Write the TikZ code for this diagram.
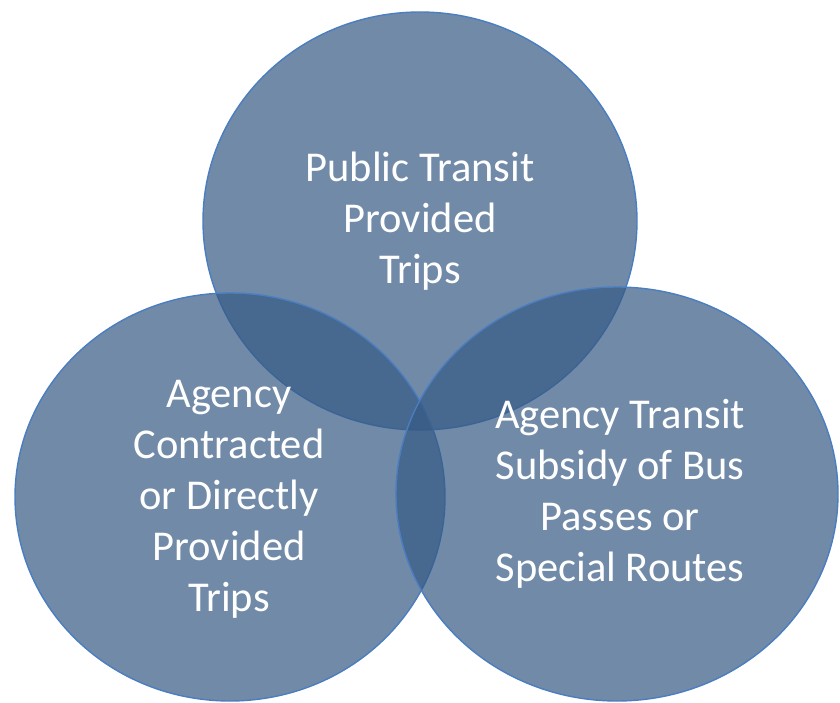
\documentclass[tikz,border=0pt]{standalone}
\usepackage{fontspec}
\setmainfont{Carlito}
\definecolor{vennfill}{RGB}{54,90,133}
\definecolor{vennline}{RGB}{74,126,192}
\tikzset{
  venn/.style={fill=vennfill,fill opacity=0.71,draw=vennline,line width=1.4pt},
  venntext/.style={text=white,align=center,font=\fontsize{42.5}{51}\selectfont}
}

\begin{document}
\begin{tikzpicture}[x=1pt,y=-1pt]
  \useasboundingbox (0,0) rectangle (840,703);

  % Centros de los círculos
  \coordinate (T) at (420,221);
  \coordinate (L) at (230,497);
  \coordinate (R) at (617,494);

  % Círculos
  \draw[venn] (T) ellipse [x radius=217,y radius=209];
  \draw[venn] (L) ellipse [x radius=215,y radius=204];
  \draw[venn] (R) ellipse [x radius=221,y radius=207];

  % Textos
  \node[venntext] (public) at (420,221) {Public Transit\\Provided\\Trips};
  \node[venntext] (agency) at (229,499) {Agency\\Contracted\\or Directly\\Provided\\Trips};
  \node[venntext] (subsidy) at (620,494) {Agency Transit\\Subsidy of Bus\\Passes or\\Special Routes};
\end{tikzpicture}
\end{document}
